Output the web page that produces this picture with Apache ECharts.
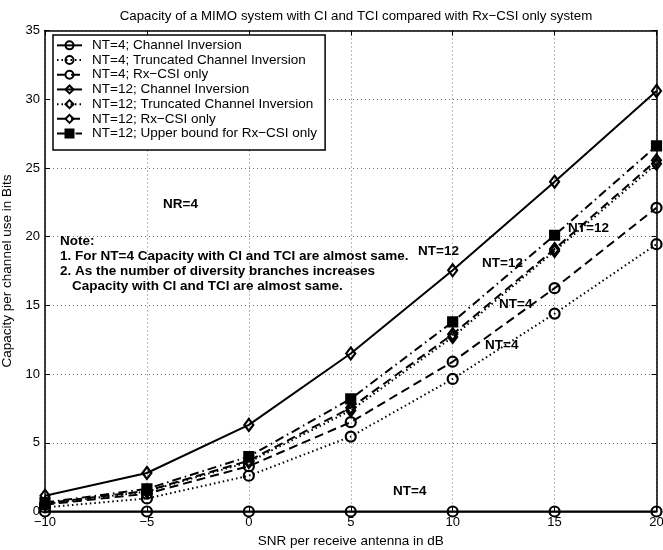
<!DOCTYPE html>
<html>
<head>
<meta charset="utf-8">
<script src="https://cdn.jsdelivr.net/npm/echarts@6/dist/echarts.min.js"></script>
<style>
  html, body { margin: 0; padding: 0; background: #fff; }
  #chart { width: 663px; height: 550px; }
</style>
</head>
<body>
<div id="chart"></div>
<script>
// SNR per receive antenna (dB)
var snr = [-10, -5, 0, 5, 10, 15, 20];

// capacities (bits per channel use)
var nt4Ci  = [0, 0, 0, 0, 0, 0, 0];
var nt4Tci = [0.3, 0.95, 2.6, 5.45, 9.65, 14.4, 19.45];
var nt4Rx  = [0.5, 1.3, 3.3, 6.5, 10.9, 16.25, 22.1];
var nt12Ci  = [1.15, 2.8, 6.3, 11.5, 17.55, 24.0, 30.6];
var nt12Tci = [0.55, 1.45, 3.6, 7.35, 12.7, 18.95, 25.3];
var nt12Rx  = [0.6, 1.5, 3.7, 7.55, 12.9, 19.1, 25.55];
var nt12Ub  = [0.65, 1.65, 4.0, 8.2, 13.8, 20.1, 26.6];

var FONT = 'Liberation Sans';

function pairs(ys) {
    return snr.map(function (x, i) { return [x, ys[i]]; });
}
function minus(v) {
    return String(v).replace('-', '\u2212');
}

function mk(name, ys, lineType, symbol, size, filled) {
    return {
        name: name,
        type: 'line',
        data: pairs(ys),
        symbol: symbol,
        symbolSize: size,
        showAllSymbol: true,
        animation: false,
        lineStyle: { color: '#000', width: 2, type: lineType },
        itemStyle: {
            color: filled ? '#000' : 'rgba(255,255,255,0)',
            borderColor: '#000',
            borderWidth: 2.2
        },
        emphasis: { disabled: true },
        z: 3
    };
}

var dashed = [9, 5];
var dotted = [1.5, 3];
var dashDot = [9, 4, 1.5, 4];

var series = [
    mk('NT=4; Channel Inversion', nt4Ci, 'solid', 'circle', 10, false),
    mk('NT=4; Truncated Channel Inversion', nt4Tci, dotted, 'circle', 10, false),
    mk('NT=4; Rx\u2212CSI only', nt4Rx, dashed, 'circle', 10, false),
    mk('NT=12; Channel Inversion', nt12Ci, 'solid', 'diamond', [9, 12], false),
    mk('NT=12; Truncated Channel Inversion', nt12Tci, dotted, 'diamond', [9, 12], false),
    mk('NT=12; Rx\u2212CSI only', nt12Rx, dashed, 'diamond', [9, 12], false),
    mk('NT=12; Upper bound for Rx\u2212CSI only', nt12Ub, dashDot, 'rect', 9, true)
];

var notes = [
    { text: 'NR=4', x: 163, y: 205 },
    { text: 'Note:', x: 60, y: 242 },
    { text: '1. For NT=4 Capacity with CI and TCI are almost same.', x: 60, y: 257 },
    { text: '2. As the number of diversity branches increases', x: 60, y: 272 },
    { text: 'Capacity with CI and TCI are almost same.', x: 72, y: 287 },
    { text: 'NT=12', x: 418, y: 252 },
    { text: 'NT=12', x: 482, y: 264 },
    { text: 'NT=12', x: 568, y: 229 },
    { text: 'NT=4', x: 499, y: 305 },
    { text: 'NT=4', x: 485, y: 346 },
    { text: 'NT=4', x: 393, y: 492 }
];

var chart = echarts.init(document.getElementById('chart'), null, { renderer: 'canvas' });

var gridLine = { show: true, lineStyle: { color: '#000', width: 1, type: [1, 3], opacity: 0.55 } };
var frame = { show: true, onZero: false, lineStyle: { color: '#000', width: 1.5 } };
var ticks = { show: true, inside: true, length: 5, lineStyle: { color: '#000' } };

var option = {
    backgroundColor: '#fff',
    animation: false,
    textStyle: { fontFamily: FONT },
    title: {
        text: 'Capacity of a MIMO system with CI and TCI compared with Rx\u2212CSI only system',
        left: 351,
        textAlign: 'center',
        top: 5,
        textStyle: { fontFamily: FONT, fontSize: 13.3, fontWeight: 'normal', color: '#000' }
    },
    grid: { left: 45, right: 6.5, top: 30.5, bottom: 38.5, outerBoundsMode: 'none', containLabel: false },
    legend: {
        orient: 'vertical',
        left: 53,
        top: 35,
        itemWidth: 25,
        itemHeight: 10,
        itemGap: 0,
        padding: [3, 8, 9, 3],
        backgroundColor: '#fff',
        borderColor: '#000',
        borderWidth: 1.5,
        borderRadius: 0,
        selectedMode: false,
        textStyle: { fontFamily: FONT, fontSize: 13.5, color: '#000', lineHeight: 14.7, padding: [0, 0, 0, 5] },
        z: 10
    },
    xAxis: [{
        type: 'value',
        min: -10, max: 20, interval: 5,
        name: 'SNR per receive antenna in dB',
        nameLocation: 'middle',
        nameGap: 23,
        nameTextStyle: { fontFamily: FONT, fontSize: 13.5, color: '#000' },
        axisLine: frame,
        axisTick: ticks,
        axisLabel: { fontFamily: FONT, fontSize: 13, color: '#000', margin: 4, formatter: minus },
        splitLine: gridLine
    }, {
        type: 'value', position: 'top',
        min: -10, max: 20, interval: 5,
        axisLine: frame,
        axisTick: ticks,
        axisLabel: { show: false },
        splitLine: { show: false }
    }],
    yAxis: [{
        type: 'value',
        min: 0, max: 35, interval: 5,
        name: 'Capacity per channel use in Bits',
        nameLocation: 'middle',
        nameRotate: 90,
        nameGap: 24,
        nameTextStyle: { fontFamily: FONT, fontSize: 13.5, color: '#000' },
        axisLine: frame,
        axisTick: ticks,
        axisLabel: { fontFamily: FONT, fontSize: 13, color: '#000', margin: 5 },
        splitLine: gridLine
    }, {
        type: 'value', position: 'right',
        min: 0, max: 35, interval: 5,
        axisLine: frame,
        axisTick: ticks,
        axisLabel: { show: false },
        splitLine: { show: false }
    }],
    graphic: notes.map(function (n) {
        return {
            type: 'text',
            left: n.x,
            top: n.y - 8,
            z: 20,
            style: { text: n.text, fontFamily: FONT, fontSize: 13.5, fontWeight: 'bold', fill: '#000' }
        };
    }),
    series: series
};

chart.setOption(option);
</script>
</body>
</html>
